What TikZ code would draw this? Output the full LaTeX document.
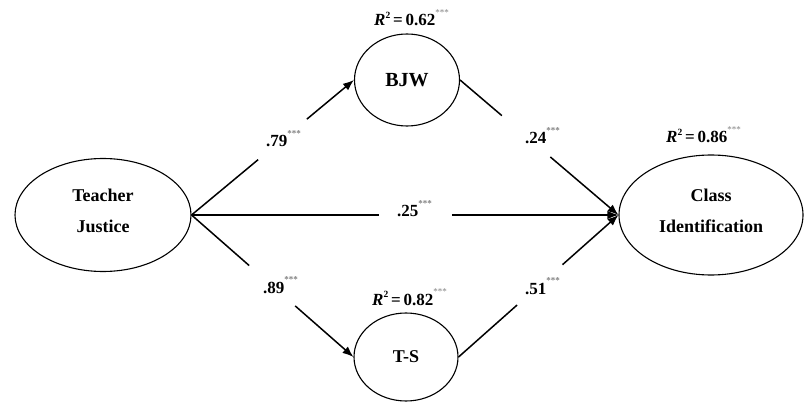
\documentclass[tikz,border=0pt]{standalone}
\usepackage{fontspec}
\setmainfont{Liberation Serif}
\usetikzlibrary{shapes.geometric,arrows.meta}
\newcommand\sigmark{\raisebox{0.6em}{\fontsize{9}{9}\selectfont\color{black!50}***}}
\newcommand\rsq[1]{\textbf{\textit{R}\raisebox{0.45em}{\fontsize{9.5}{9.5}\selectfont 2}\,=\,#1}\sigmark}
\begin{document}
\begin{tikzpicture}[x=1pt,y=-1pt,
  latent/.style={ellipse,draw,line width=1.1pt,inner sep=0pt,align=center,
    font=\fontsize{18}{31}\selectfont\bfseries},
  pathline/.style={line width=1.5pt},
  arr/.style={pathline,-{Latex[length=11pt,width=8.5pt]}},
  coef/.style={font=\fontsize{17}{18}\selectfont\bfseries,inner sep=0pt,anchor=base west},
  rlab/.style={font=\fontsize{17}{18}\selectfont,inner sep=0pt,anchor=base west}]
\useasboundingbox (0,0) rectangle (805,403);
% latent variables
\node[latent,minimum width=176pt,minimum height=113pt] (TJ) at (103,215)
  {Teacher\\Justice\rule[-9pt]{0pt}{9pt}};
\node[latent,minimum width=105pt,minimum height=92pt,font=\fontsize{20}{24}\selectfont\bfseries] (BJW) at (407,80) {BJW};
\node[latent,minimum width=104pt,minimum height=88pt] (TS) at (406,357) {T-S};
\node[latent,minimum width=184pt,minimum height=120pt] (CI) at (711,215)
  {Class\\Identification\rule[-9pt]{0pt}{9pt}};
% break points of the connectors
\path (TJ.east) -- coordinate[pos=0.41] (a1) coordinate[pos=0.71] (a2) (BJW.west);
\path (TJ.east) -- coordinate[pos=0.44] (b1) coordinate[pos=0.61] (b2) (CI.west);
\path (TJ.east) -- coordinate[pos=0.356] (c1) coordinate[pos=0.64] (c2) (TS.west);
\path (BJW.east) -- coordinate[pos=0.264] (d1) coordinate[pos=0.57] (d2) (CI.west);
\path (TS.east) -- coordinate[pos=0.366] (e1) coordinate[pos=0.65] (e2) (CI.west);
% connectors
\draw[pathline] (TJ.east) -- (a1);
\draw[arr] (a2) -- (BJW.west);
\draw[pathline] (TJ.east) -- (b1);
\draw[arr] (b2) -- (CI.west);
\draw[pathline] (TJ.east) -- (c1);
\draw[arr] (c2) -- (TS.west);
\draw[pathline] (BJW.east) -- (d1);
\draw[arr] (d2) -- (CI.west);
\draw[pathline] (TS.east) -- (e1);
\draw[arr] (e2) -- (CI.west);
% coefficients
\node[coef] (l1) at (266,147) {.79\sigmark};
\node[coef] (l2) at (397,217) {.25\sigmark};
\node[coef] (l3) at (263,293) {.89\sigmark};
\node[coef] (l4) at (525,144) {.24\sigmark};
\node[coef] (l5) at (525,294) {.51\sigmark};
% R squared
\node[rlab] (r1) at (374,26) {\rsq{0.62}};
\node[rlab] (r2) at (372,305) {\rsq{0.82}};
\node[rlab] (r3) at (666,143) {\rsq{0.86}};
\end{tikzpicture}
\end{document}
